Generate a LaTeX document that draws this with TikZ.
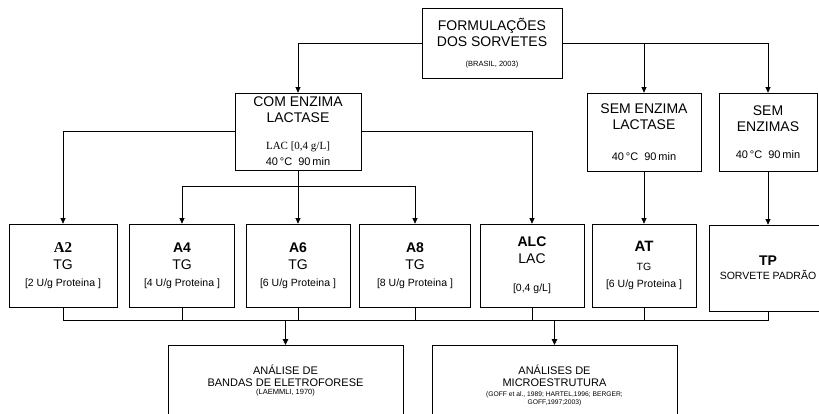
\documentclass[tikz,border=0pt]{standalone}
\usepackage{fontspec}
\setmainfont{Liberation Sans}
\newfontfamily\tnr{Liberation Serif}
\usetikzlibrary{arrows.meta,positioning}

\newcommand{\fsz}[2]{\fontsize{#1}{#2}\selectfont}

\begin{document}
\begin{tikzpicture}[x=1pt, y=-1pt,
  box/.style={draw, line width=0.7pt, align=center, inner sep=0pt, font=\fsz{14}{16}},
  sample/.style={box, minimum height=83pt, font=\fsz{14}{17}},
  link/.style={line width=0.7pt},
  flow/.style={link, -{Triangle[length=5.5pt,width=5pt]}},
  heavy/.style={line width=1.1pt, -{Triangle[length=6pt,width=5.5pt]}}]

  \useasboundingbox (0,0) rectangle (819,413);

  \node[box, minimum width=140pt, minimum height=70pt] (form) at (492,43)
    {FORMULAÇÕES\\DOS SORVETES\\[4pt]\fsz{7.5}{9}(BRASIL, 2003)};

  \node[box, minimum width=126pt, minimum height=77pt] (com) at (298,131.5)
    {COM ENZIMA\\LACTASE\\[11pt]\tnr\fsz{11}{13}LAC [0,4 g/L]\\\fsz{11}{13}40\,°C\ \ 90\,min};
  \node[box, minimum width=114pt, minimum height=78pt] (seml) at (644,132)
    {SEM ENZIMA\\LACTASE\\[15pt]\fsz{11}{13}40\,°C\ \ 90\,min};
  \node[box, minimum width=98pt, minimum height=78pt] (sems) at (768,132)
    {SEM\\ENZIMAS\\[11pt]\fsz{11}{13}40\,°C\ \ 90\,min};

  \node[sample, minimum width=108pt] (a2) at (63,265.5)
    {\tnr\bfseries\fsz{15}{17}A2\\TG\\\fsz{10.5}{12}[2 U/g Proteina ]};
  \node[sample, minimum width=105pt] (a4) at (182,265.5)
    {\bfseries A4\\TG\\\fsz{10.5}{12}[4 U/g Proteina ]};
  \node[sample, minimum width=104pt] (a6) at (298,265.5)
    {\bfseries A6\\TG\\\fsz{10.5}{12}[6 U/g Proteina ]};
  \node[sample, minimum width=111pt] (a8) at (415,265.5)
    {\bfseries A8\\TG\\\fsz{10.5}{12}[8 U/g Proteina ]};
  \node[sample, minimum width=104pt] (alc) at (532,265.5)
    {\bfseries ALC\\LAC\\[11pt]\fsz{10.5}{12}[0,4 g/L]};
  \node[sample, minimum width=104pt] (at) at (644,265.5)
    {\bfseries\fsz{15}{17}AT\\[2pt]\fsz{10.5}{12}TG\\\fsz{10.5}{12}[6 U/g Proteina ]};
  \node[sample, minimum width=118pt, minimum height=86pt] (tp) at (768,268)
    {\bfseries TP\\[-3pt]\fsz{10.5}{12}SORVETE PADRÃO};

  \node[box, minimum width=235pt, minimum height=70pt, anchor=north, font=\fsz{11}{12}] (bandas) at (285.5,345)
    {ANÁLISE DE\\BANDAS DE ELETROFORESE\\[-4pt]\fsz{7.5}{8}(LAEMMLI, 1970)};
  \node[box, minimum width=245pt, minimum height=80pt, anchor=north, font=\fsz{11}{12}] (micro) at (554.5,345)
    {ANÁLISES DE\\MICROESTRUTURA\\[-2pt]\fsz{6.7}{8}(GOFF et al., 1989; HARTEL,1996; BERGER;\\[-4pt]\fsz{6.7}{8}GOFF,1997;2003)};

  \draw[flow] (form.west) -| (com.north);
  \draw[flow] (form.east) -| (seml.north);
  \draw[flow] (form.east) -| (sems.north);

  \draw[flow] ([yshift=0.5pt]com.west) -| (a2.north);
  \draw[flow] ([yshift=0.5pt]com.east) -| (alc.north);
  \coordinate (split) at (298,186);
  \draw[link] (com.south) -- (split);
  \draw[flow] (split) -| (a4.north);
  \draw[flow] (split) -| (a8.north);
  \draw[flow] (split) -- (a6.north);
  \draw[flow] (seml.south) -- (at.north);
  \draw[flow] (sems.south) -- (tp.north);

  \coordinate (busl) at (63,320);
  \coordinate (busr) at (768,320);
  \draw[link] (a2.south) -- (busl) -- (busr) -- (tp.south);
  \foreach \s in {a4,a6,a8,alc,at}
    \draw[link] (\s.south) -- (\s.south |- busl);
  \draw[heavy] (bandas.north |- busl) -- (bandas.north);
  \draw[heavy] (micro.north |- busl) -- (micro.north);
\end{tikzpicture}
\end{document}
